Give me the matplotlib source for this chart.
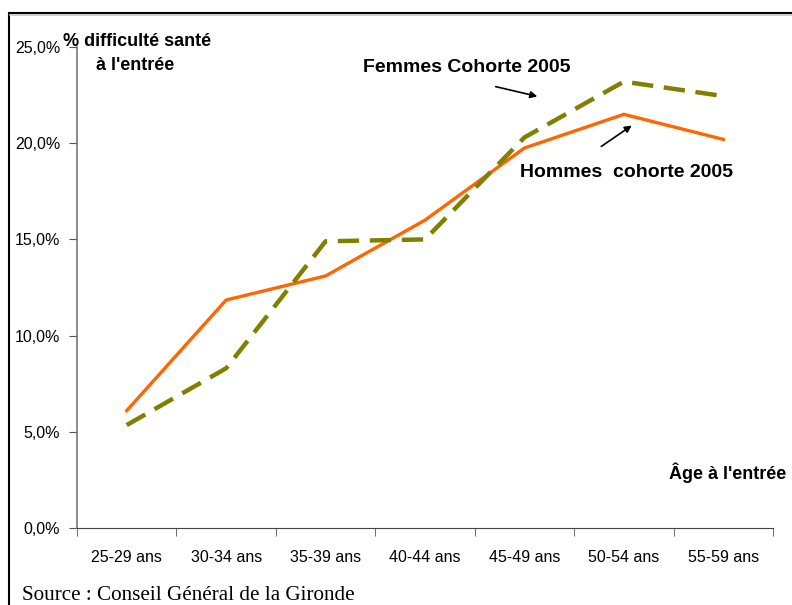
import matplotlib.pyplot as plt
import matplotlib.patches as mpatches
from matplotlib.ticker import FixedLocator, FuncFormatter
from matplotlib import font_manager

categories = ['25-29 ans', '30-34 ans', '35-39 ans', '40-44 ans',
              '45-49 ans', '50-54 ans', '55-59 ans']
hommes = [0.061, 0.1185, 0.131, 0.160, 0.1975, 0.215, 0.202]
femmes = [0.0535, 0.083, 0.149, 0.150, 0.203, 0.232, 0.2245]
yticks = [0.0, 0.05, 0.10, 0.15, 0.20, 0.25]

names = {f.name for f in font_manager.fontManager.ttflist}
narrow = 'Liberation Sans'
for cand in ['Liberation Sans Narrow', 'DejaVu Sans Condensed']:
    if cand in names:
        narrow = cand
        break

fig = plt.figure(figsize=(7.92, 6.05), dpi=100)
ax = fig.add_axes([77 / 792, 1 - 528 / 605, (773 - 77) / 792, (528 - 47) / 605])

x = list(range(len(categories)))
ax.plot(x, hommes, color='#FF6600', lw=2.4, solid_joinstyle='miter')
ax.plot(x, femmes, color='#808000', lw=3.2, dashes=(4.8, 2.4))

ax.set_xlim(-0.5, len(categories) - 0.5)
ax.set_ylim(0, 0.25)
ax.set_yticks(yticks)
ax.yaxis.set_major_formatter(FuncFormatter(lambda v, p: f'{v * 100:.1f}%'.replace('.', ',')))
ax.set_xticks(x)
ax.set_xticklabels(categories)
ax.xaxis.set_minor_locator(FixedLocator([i - 0.5 for i in range(len(categories) + 1)]))
ax.tick_params(axis='x', which='major', length=0, pad=16)
ax.tick_params(axis='x', which='minor', length=6, color='#555555', direction='out')
ax.tick_params(axis='y', length=6, color='#555555', direction='out', pad=6)
for lab in ax.get_xticklabels() + ax.get_yticklabels():
    lab.set_fontfamily(narrow)
    lab.set_fontsize(12 if narrow == 'Liberation Sans Narrow' else 11.5)

ax.spines['top'].set_visible(False)
ax.spines['right'].set_visible(False)
ax.spines['left'].set_color('#777777')
ax.spines['bottom'].set_color('#444444')
ax.spines['left'].set_linewidth(1.2)

# outer frame, with the light shadow under its top edge
frame = mpatches.Rectangle((9 / 792, -0.1), 1.2, 1 - 13 / 605 + 0.1, transform=fig.transFigure,
                           fill=False, edgecolor='black', lw=1.5, clip_on=False)
fig.patches.append(frame)
fig.add_artist(plt.Line2D([10 / 792, 1], [1 - 15 / 605] * 2, transform=fig.transFigure,
                          color='#c8c8c8', lw=1.2))

bold = dict(fontfamily='Liberation Sans', fontweight='bold', transform=fig.transFigure)

def fx(px):
    return px / 792

def fy(py):
    return 1 - py / 605

fig.text(fx(63), fy(42), '% difficulté santé', fontsize=13, va='center', ha='left', **bold)
fig.text(fx(96), fy(66), "à l'entrée", fontsize=13, va='center', ha='left', **bold)
fig.text(fx(363), fy(68), 'Femmes Cohorte 2005', fontsize=14, va='center', ha='left', **bold)
fig.text(fx(520), fy(172), 'Hommes  cohorte 2005', fontsize=14, va='center', ha='left', **bold)
fig.text(fx(669), fy(473), "Âge à l'entrée", fontsize=13, va='center', ha='left', **bold)

fig.text(fx(22), fy(596), 'Source : Conseil Général de la Gironde', fontsize=15.2,
         fontfamily='Liberation Serif', va='center', ha='left')

arrow = dict(arrowstyle='-|>', color='black', lw=1.2, mutation_scale=10)
ax.annotate('', xy=(fx(540), fy(97)), xycoords='figure fraction',
            xytext=(fx(493), fy(86)), textcoords='figure fraction', arrowprops=arrow)
ax.annotate('', xy=(fx(634), fy(124)), xycoords='figure fraction',
            xytext=(fx(599), fy(148)), textcoords='figure fraction', arrowprops=arrow)

fig.savefig('out.png', dpi=100)
